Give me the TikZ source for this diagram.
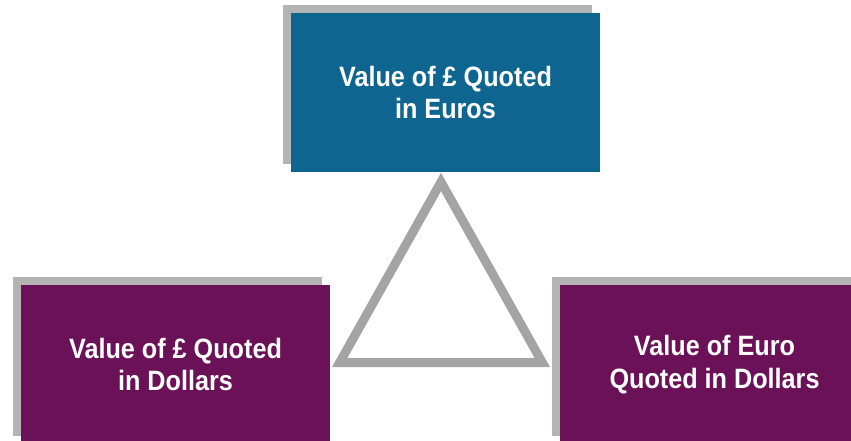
\documentclass[tikz,border=0pt]{standalone}
\usepackage{fontspec}
\setmainfont{Liberation Sans}[FakeStretch=0.9]
\usetikzlibrary{shadows}
\definecolor{rateteal}{HTML}{0E6690}
\definecolor{ratepurple}{HTML}{6A1157}
\definecolor{rateshadow}{HTML}{B4B4B4}
\definecolor{rategray}{HTML}{A4A4A4}

\begin{document}
\begin{tikzpicture}[x=1pt,y=1pt,
  ratebox/.style={minimum width=309pt,minimum height=159pt,inner sep=0pt,
    text=white,align=center,font=\bfseries\fontsize{28}{32.4}\selectfont,
    drop shadow={shadow xshift=-8pt,shadow yshift=8pt,fill=rateshadow,opacity=1}}]
  \clip (0,0) rectangle (851,440);
  % the three quotes
  \node[ratebox,fill=rateteal] (eurgbp) at (445.5,347.5) {Value of £ Quoted\\in Euros};
  \node[ratebox,fill=ratepurple] (usdgbp) at (175.5,75.5) {Value of £ Quoted\\in Dollars};
  \node[ratebox,fill=ratepurple] (usdeur) at (714.5,75.5) {Value of Euro\\Quoted in Dollars};
  % triangle between them
  \coordinate (apex) at (441,258);
  \coordinate (baseleft) at (339.7,77.5);
  \coordinate (baseright) at (542.3,77.5);
  \draw[rategray,line width=9pt] (apex) -- (baseleft) -- (baseright) -- cycle;
\end{tikzpicture}
\end{document}
